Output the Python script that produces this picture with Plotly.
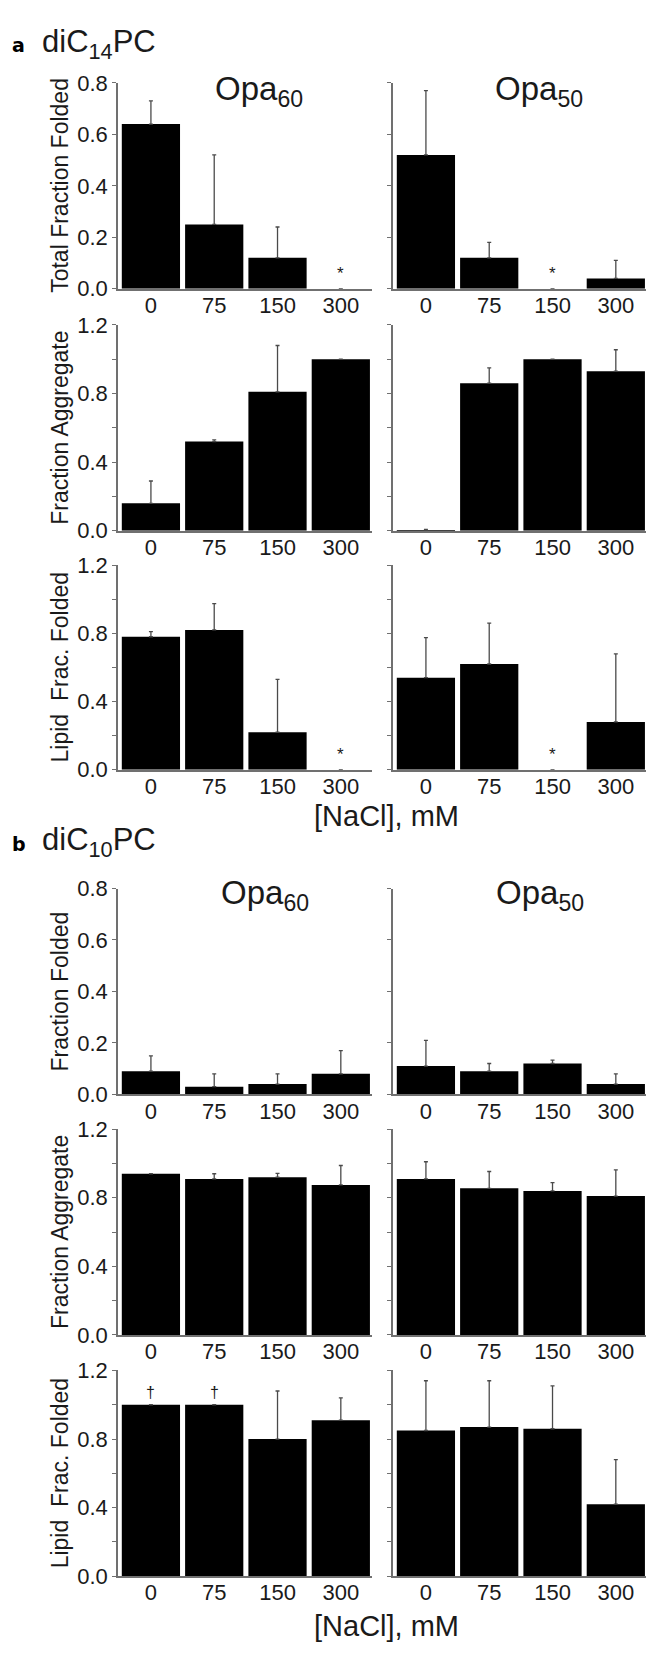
import plotly.graph_objects as go

W, H = 646, 1653

categories = ["0", "75", "150", "300"]

a_opa60_total = [0.64, 0.25, 0.12, 0.0]
a_opa60_total_err = [0.09, 0.27, 0.12, 0.0]
a_opa50_total = [0.52, 0.12, 0.0, 0.04]
a_opa50_total_err = [0.25, 0.06, 0.0, 0.07]

a_opa60_agg = [0.16, 0.52, 0.81, 1.0]
a_opa60_agg_err = [0.13, 0.01, 0.27, 0.0]
a_opa50_agg = [0.003, 0.86, 1.0, 0.93]
a_opa50_agg_err = [0.005, 0.09, 0.0, 0.125]

a_opa60_lipid = [0.78, 0.82, 0.22, 0.0]
a_opa60_lipid_err = [0.03, 0.155, 0.31, 0.0]
a_opa50_lipid = [0.54, 0.62, 0.0, 0.28]
a_opa50_lipid_err = [0.235, 0.24, 0.0, 0.40]

b_opa60_folded = [0.09, 0.03, 0.04, 0.08]
b_opa60_folded_err = [0.06, 0.05, 0.04, 0.09]
b_opa50_folded = [0.11, 0.09, 0.12, 0.04]
b_opa50_folded_err = [0.10, 0.03, 0.013, 0.04]

b_opa60_agg = [0.94, 0.91, 0.92, 0.875]
b_opa60_agg_err = [0.0, 0.03, 0.022, 0.113]
b_opa50_agg = [0.91, 0.855, 0.84, 0.81]
b_opa50_agg_err = [0.10, 0.098, 0.048, 0.153]

b_opa60_lipid = [1.0, 1.0, 0.80, 0.91]
b_opa60_lipid_err = [0.0, 0.0, 0.28, 0.13]
b_opa50_lipid = [0.85, 0.87, 0.86, 0.42]
b_opa50_lipid_err = [0.29, 0.27, 0.25, 0.26]

a_opa60_total_marks = ["", "", "", "*"]
a_opa50_total_marks = ["", "", "*", ""]
a_opa60_lipid_marks = ["", "", "", "*"]
a_opa50_lipid_marks = ["", "", "*", ""]
b_opa60_lipid_marks = ["\u2020", "\u2020", "", ""]

row_titles = ["Total Fraction Folded", "Fraction Aggregate", "Lipid\u00a0 Frac. Folded",
              "Fraction Folded", "Fraction Aggregate", "Lipid\u00a0 Frac. Folded"]
row_ymax = [0.8, 1.2, 1.2, 0.8, 1.2, 1.2]

panels = [
    (a_opa60_total, a_opa60_total_err, a_opa50_total, a_opa50_total_err, a_opa60_total_marks, a_opa50_total_marks),
    (a_opa60_agg, a_opa60_agg_err, a_opa50_agg, a_opa50_agg_err, None, None),
    (a_opa60_lipid, a_opa60_lipid_err, a_opa50_lipid, a_opa50_lipid_err, a_opa60_lipid_marks, a_opa50_lipid_marks),
    (b_opa60_folded, b_opa60_folded_err, b_opa50_folded, b_opa50_folded_err, None, None),
    (b_opa60_agg, b_opa60_agg_err, b_opa50_agg, b_opa50_agg_err, None, None),
    (b_opa60_lipid, b_opa60_lipid_err, b_opa50_lipid, b_opa50_lipid_err, b_opa60_lipid_marks, None),
]

# layout in pixels
rows_px = [(72, 281), (317.7, 526.7), (561.7, 769.3), (890, 1099), (1134.3, 1343.3), (1379.3, 1588.3)]
cols_px = [(118, 372), (393, 646)]
FONT = "Liberation Sans"
AXC = "#707070"
TXT = "#1a1a1a"


def fx(p):
    return p / W


def fy(p):
    return 1 - p / H


fig = go.Figure()
layout = dict(
    width=W, height=H, margin=dict(l=0, r=0, t=0, b=0),
    paper_bgcolor="white", plot_bgcolor="white", showlegend=False,
    font=dict(family=FONT, color=TXT),
)
annotations = []

idx = 0
for r, (panel, (top, bot), ymax, title) in enumerate(zip(panels, rows_px, row_ymax, row_titles)):
    v60, e60, v50, e50, m60, m50 = panel
    for c, (vals, errs, marks) in enumerate([(v60, e60, m60), (v50, e50, m50)]):
        idx += 1
        xa = "x" if idx == 1 else f"x{idx}"
        ya = "y" if idx == 1 else f"y{idx}"
        xk = "xaxis" if idx == 1 else f"xaxis{idx}"
        yk = "yaxis" if idx == 1 else f"yaxis{idx}"
        xs = list(range(len(categories)))
        fig.add_trace(go.Bar(
            x=xs, y=vals, width=0.92, xaxis=xa, yaxis=ya,
            marker=dict(color="black", line=dict(width=0)),
            error_y=dict(type="data", symmetric=False,
                         array=[e if e > 0 else None for e in errs],
                         arrayminus=[0] * len(errs),
                         color="#4a4a4a", thickness=1.3, width=2),
            hoverinfo="skip",
        ))
        x0, x1 = cols_px[c]
        rng_right = -0.52 + (x1 - x0) / 63.3
        layout[xk] = dict(
            domain=[fx(x0), fx(x1)], range=[-0.52, rng_right], anchor=ya,
            tickvals=xs, ticktext=categories, ticks="", showline=True,
            linecolor=AXC, linewidth=1.5, showgrid=False, zeroline=False,
            ticklabelstandoff=-4,
            tickfont=dict(size=22, family=FONT, color=TXT), fixedrange=True,
        )
        ydict = dict(
            domain=[fy(bot), fy(top)], range=[0, ymax], anchor=xa,
            showline=True, linecolor=AXC, linewidth=1.5, showgrid=False, zeroline=False,
            ticks="outside", ticklen=4, tickcolor=AXC, tickwidth=1.2,
            tickformat=".1f", tickfont=dict(size=22, family=FONT, color=TXT),
            showticklabels=(c == 0), fixedrange=True,
        )
        if ymax > 1.0:
            ydict.update(dtick=0.4, tick0=0,
                         minor=dict(dtick=0.2, ticks="outside", ticklen=4, tickcolor=AXC, tickwidth=1.2))
        else:
            ydict.update(dtick=0.2, tick0=0)
        layout[yk] = ydict
        if marks:
            for i, m in enumerate(marks):
                if m:
                    top_val = vals[i] + (errs[i] if errs[i] else 0)
                    annotations.append(dict(
                        x=i, y=top_val, xref=xa, yref=ya, text=m, showarrow=False,
                        yanchor="bottom", yshift=(4 if m == "*" else 2),
                        font=dict(size=17 if m == "*" else 16, family=FONT, color=TXT),
                    ))
    # row y title
    annotations.append(dict(
        x=fx(60), y=fy((top + bot) / 2), xref="paper", yref="paper", text=title,
        textangle=-90, showarrow=False, xanchor="center", yanchor="middle",
        font=dict(size=23, family=FONT, color=TXT),
    ))

# Panel titles
for (lab, sub, ypix) in [("a", "14", 32), ("b", "10", 843)]:
    annotations.append(dict(x=fx(10), y=fy(ypix + 2), xref="paper", yref="paper", text=lab,
                            showarrow=False, xanchor="left", yanchor="middle",
                            font=dict(size=19, family="DejaVu Sans", color="black", weight="bold")))
    annotations.append(dict(x=fx(40), y=fy(ypix), xref="paper", yref="paper", text=f"diC<sub>{sub}</sub>PC",
                            showarrow=False, xanchor="left", yanchor="middle",
                            font=dict(size=31, family=FONT, color=TXT)))

for (xc, yc, sub) in [(259, 80, "60"), (539, 80, "50"), (265, 897, "60"), (540, 897, "50")]:
    annotations.append(dict(x=fx(xc), y=fy(yc), xref="paper", yref="paper", text=f"Opa<sub>{sub}</sub>",
                            showarrow=False, xanchor="center", yanchor="middle",
                            font=dict(size=33, family=FONT, color=TXT)))

for yc in [816, 1639]:
    annotations.append(dict(x=fx(386), y=fy(yc), xref="paper", yref="paper", text="[NaCl], mM",
                            showarrow=False, xanchor="center", yanchor="middle",
                            font=dict(size=29, family=FONT, color=TXT)))

layout["annotations"] = annotations
fig.update_layout(**layout)
fig.write_html(
    "out.html",
    config={"displayModeBar": False},
    post_script="document.body.style.margin='0';document.body.style.overflow='hidden';",
)
